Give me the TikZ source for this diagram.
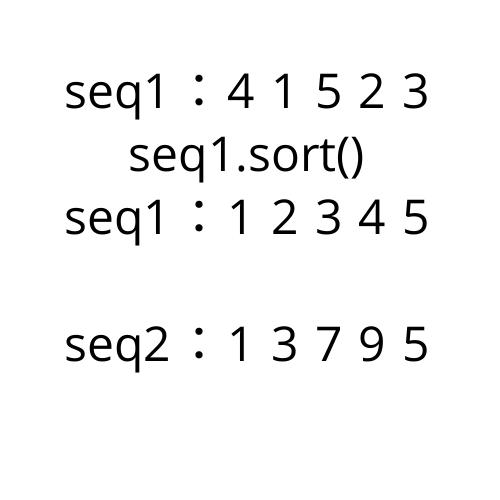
\documentclass[tikz,border=0pt]{standalone}
\usepackage{fontspec}
\setmainfont{Open Sans}[WordSpace=1.3]
\newfontfamily\cjk{Noto Sans CJK JP}
\newcommand{\sepcolon}{{\cjk\ \kern-6pt：\kern4pt}}
\usepackage{tikz}

\begin{document}
\begin{tikzpicture}[node distance={63pt}, line/.style = {font=\fontsize{48}{48}\selectfont, inner sep=0pt}]
\useasboundingbox (0,0) rectangle (500pt,500pt);
\node[line] (1) at (247pt,403pt) {seq1\sepcolon4 1 5 2 3};
\node[line] (2) [below of=1] {seq1.sort()};
\node[line] (3) [below of=2] {seq1\sepcolon1 2 3 4 5};
\node[line] (4) [below of=3, yshift=-64pt] {seq2\sepcolon1 3 7 9 5};
\end{tikzpicture}
\end{document}
